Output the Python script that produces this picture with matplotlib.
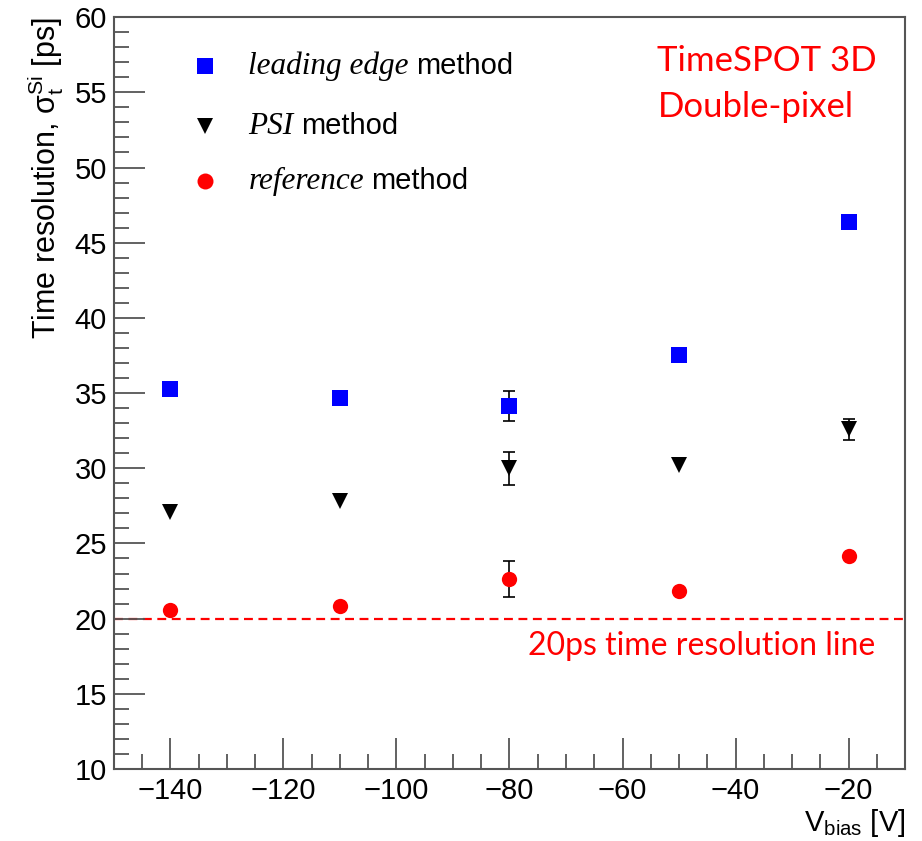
import matplotlib
matplotlib.use("Agg")
import matplotlib.pyplot as plt
import numpy as np
from matplotlib.ticker import MultipleLocator

plt.rcParams['font.family'] = ['Liberation Sans', 'DejaVu Sans']
plt.rcParams['mathtext.fontset'] = 'custom'
plt.rcParams['mathtext.rm'] = 'Liberation Sans'
plt.rcParams['mathtext.it'] = 'Liberation Sans:italic'
plt.rcParams['mathtext.default'] = 'regular'

# Data
vbias = [-140, -110, -80, -50, -20]
leading_edge = [35.25, 34.65, 34.15, 37.5, 46.4]
leading_edge_err = [0.0, 0.0, 1.0, 0.0, 0.0]
psi = [27.1, 27.8, 30.0, 30.25, 32.6]
psi_err = [0.0, 0.0, 1.1, 0.0, 0.7]
reference = [20.57, 20.85, 22.65, 21.87, 24.17]
reference_err = [0.0, 0.0, 1.2, 0.0, 0.0]
threshold = 20

fig = plt.figure(figsize=(9.22, 8.41), dpi=100)
ax = fig.add_axes([0.1236, 0.0856, 0.858, 0.894])

series = [
    (leading_edge, leading_edge_err, 's', '#0000ff', 11),
    (psi, psi_err, 'v', 'black', 12),
    (reference, reference_err, 'o', '#ff0000', 11),
]
for vals, errs, mk, col, ms in series:
    x = np.array(vbias); y = np.array(vals); e = np.array(errs)
    m = e > 0
    ax.errorbar(x[m], y[m], yerr=e[m], fmt='none', ecolor='black',
                elinewidth=1.2, capsize=4, capthick=1.2, zorder=2)
    ax.plot(x, y, linestyle='none', marker=mk, color=col, markersize=ms,
            markeredgewidth=0, zorder=3)

ax.axhline(threshold, color='#ff0000', linestyle=(0, (4, 2.5)), linewidth=1.6, zorder=1)

ax.set_xlim(-150, -10)
ax.set_ylim(10, 60)
ax.xaxis.set_minor_locator(MultipleLocator(5))
ax.yaxis.set_major_locator(MultipleLocator(5))
ax.yaxis.set_minor_locator(MultipleLocator(1))
ax.set_xticks([-140, -120, -100, -80, -60, -40, -20])
ax.set_xticklabels(['\u2212140', '\u2212120', '\u2212100', '\u221280', '\u221260', '\u221240', '\u221220'])

for sp in ax.spines.values():
    sp.set_color('#555555')
    sp.set_linewidth(1.5)
ax.tick_params(axis='both', which='major', direction='in', length=22, width=1.3,
               color='#555555', labelsize=21, pad=6)
ax.tick_params(axis='y', which='major', pad=5)
ax.tick_params(axis='both', which='minor', direction='in', length=11, width=1.3,
               color='#555555')

ax.set_ylabel(r'Time resolution, $\sigma_{t}^{Si}$ [ps]', fontsize=22, loc='top', labelpad=6)
ax.set_xlabel(r'V$_{bias}$ [V]', fontsize=21, loc='right', labelpad=1)

# Legend (manual, in axes fraction coords)
legend_rows = [
    ('s', '#0000ff', 11.5, 'leading edge', 0.935),
    ('v', 'black', 12, 'PSI', 0.855),
    ('o', '#ff0000', 11.5, 'reference', 0.782),
]
for mk, col, ms, label, yy in legend_rows:
    ax.plot([0.115], [yy], transform=ax.transAxes, marker=mk, color=col,
            markersize=ms, markeredgewidth=0, linestyle='none', clip_on=False)
    t = ax.text(0.170, yy, label, transform=ax.transAxes, fontsize=22.5,
                family='Liberation Serif', style='italic', va='center', ha='left')
    fig.canvas.draw()
    bb = t.get_window_extent()
    x1 = ax.transAxes.inverted().transform((bb.x1, bb.y0))[0]
    ax.text(x1 + 0.009, yy, 'method', transform=ax.transAxes, fontsize=21,
            va='center', ha='left')

ax.text(0.687, 0.942, 'TimeSPOT 3D', transform=ax.transAxes, fontsize=25,
        color='#ff0000', family='Lato', va='center', ha='left')
ax.text(0.687, 0.880, 'Double-pixel', transform=ax.transAxes, fontsize=25,
        color='#ff0000', family='Lato', va='center', ha='left')
ax.text(0.523, 0.163, '20ps time resolution line', transform=ax.transAxes, fontsize=23,
        color='#ff0000', family='Lato', va='center', ha='left')

fig.savefig('out.png', dpi=100)
